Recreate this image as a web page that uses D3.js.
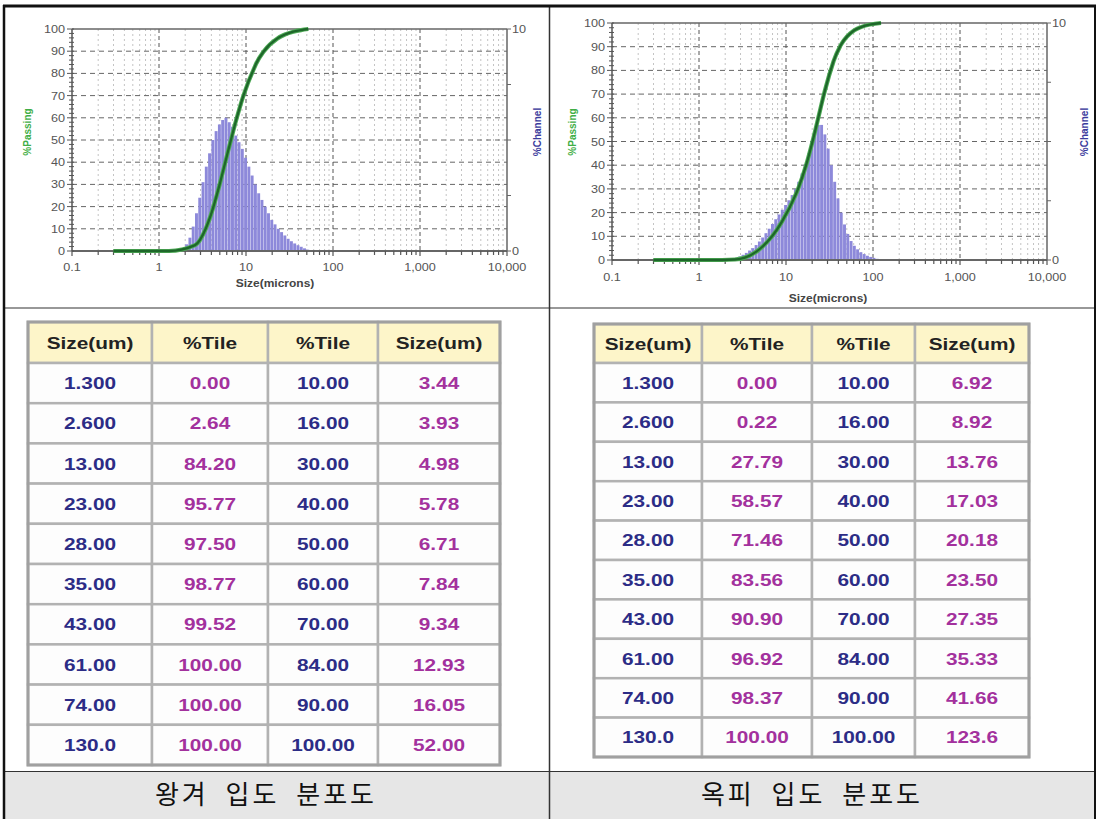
<!DOCTYPE html>
<html>
<head>
<meta charset="utf-8">
<script src="https://cdn.jsdelivr.net/npm/d3@7"></script>
<style>
  body { margin: 0; background: #fff; }
  svg { display: block; }
</style>
</head>
<body>
<script>
// ---- data ----
// histogram channel edges (microns)
const channelEdges = [1.682, 1.834, 2.000, 2.181, 2.378, 2.594, 2.828, 3.084, 3.364, 3.668,
  4.000, 4.362, 4.757, 5.187, 5.657, 6.169, 6.727, 7.336, 8.000, 8.724,
  9.514, 10.375, 11.314, 12.338, 13.454, 14.672, 16.000, 17.448, 19.027, 20.749,
  22.627, 24.675, 26.909, 29.344, 32.000, 34.897, 38.055, 41.499, 45.255, 49.351,
  53.817, 58.688, 64.000, 69.793, 76.109, 82.998, 90.510, 98.701, 107.63, 117.38, 128.00];

// %channel (read on the 0-100 left scale, right scale = /10)
const huskChannel = [0.5, 1, 3, 6, 11, 17, 24, 31, 38, 44,
  50, 54, 57, 59, 60, 58, 56, 52, 49, 46,
  42, 38, 34, 30, 26, 23, 20, 17, 14, 12,
  10, 8.5, 7, 5.5, 4.4, 3.4, 2.6, 1.9, 1.2, 0.6,
  0, 0, 0, 0, 0, 0, 0, 0, 0, 0];
const hullChannel = [0, 0, 0, 0.3, 0.6, 1, 1.5, 2.2, 3, 4,
  5, 6.3, 7.8, 9.5, 11.3, 13.2, 15.2, 17.2, 19.2, 21.2,
  23.2, 25.2, 27.4, 30, 33, 36.5, 40.5, 45, 50, 54,
  57, 57, 53, 47, 40, 33, 26, 20, 15, 11,
  8, 6, 4.5, 3.3, 2.5, 1.8, 1.3, 0.9, 0.5, 0.2];

// tables
const tableHeaders = ['Size(um)', '%Tile', '%Tile', 'Size(um)'];
const sizePoints = ['1.300', '2.600', '13.00', '23.00', '28.00', '35.00', '43.00', '61.00', '74.00', '130.0'];
const tilePoints = ['10.00', '16.00', '30.00', '40.00', '50.00', '60.00', '70.00', '84.00', '90.00', '100.00'];
const huskPassing = ['0.00', '2.64', '84.20', '95.77', '97.50', '98.77', '99.52', '100.00', '100.00', '100.00'];
const huskTileSizes = ['3.44', '3.93', '4.98', '5.78', '6.71', '7.84', '9.34', '12.93', '16.05', '52.00'];
const hullPassing = ['0.00', '0.22', '27.79', '58.57', '71.46', '83.56', '90.90', '96.92', '98.37', '100.00'];
const hullTileSizes = ['6.92', '8.92', '13.76', '17.03', '20.18', '23.50', '27.35', '35.33', '41.66', '123.6'];

const curveStart = 0.3;  // passing line starts here on the baseline
const xTickLabels = ['0.1', '1', '10', '100', '1,000', '10,000'];
const captions = ['왕겨 입도 분포도', '옥피 입도 분포도'];

// ---- page ----
const width = 1097, height = 819;
const font = '"Liberation Sans", Arial, sans-serif';

const svg = d3.select('body').append('svg')
  .attr('width', width)
  .attr('height', height);

// stretched text helper (the source image is a bit wide)
function stext(g, x, y, txt, sx) {
  return g.append('text')
    .attr('transform', `translate(${x},${y}) scale(${sx},1)`)
    .text(txt);
}

function passingPoints(passing, tileSizes) {
  const pts = [[curveStart, 0]];
  const end = +tileSizes[tileSizes.length - 1];
  sizePoints.forEach((s, i) => { if (+s <= end) pts.push([+s, +passing[i]]); });
  tileSizes.forEach((s, i) => pts.push([+s, +tilePoints[i]]));
  return pts.sort((a, b) => a[0] - b[0]);
}

function drawChart(cfg) {
  const g = svg.append('g').style('font-family', font);
  const x = d3.scaleLog().domain([0.1, 10000]).range([cfg.x0, cfg.x1]);
  const y = d3.scaleLinear().domain([0, 100]).range([cfg.yBase, cfg.yTop]);
  const yRight = d3.scaleLinear().domain([0, 10]).range([cfg.yBase, cfg.yTop]);

  const allTicks = x.ticks();
  const isMajor = v => Math.abs(Math.log10(v) - Math.round(Math.log10(v))) < 1e-6;
  const minor = allTicks.filter(v => !isMajor(v));
  const major = allTicks.filter(isMajor);

  // minor vertical grid
  g.selectAll('.vminor').data(minor).enter().append('line')
    .attr('x1', d => x(d)).attr('x2', d => x(d))
    .attr('y1', cfg.yTop).attr('y2', cfg.yBase)
    .attr('stroke', '#c4c4c4').attr('stroke-width', 1)
    .attr('stroke-dasharray', '2,3');

  // horizontal grid
  g.selectAll('.hgrid').data(d3.range(10, 100, 10)).enter().append('line')
    .attr('x1', cfg.x0).attr('x2', cfg.x1)
    .attr('y1', d => y(d)).attr('y2', d => y(d))
    .attr('stroke', '#666').attr('stroke-width', 1)
    .attr('stroke-dasharray', '5,4');

  // decade vertical grid
  g.selectAll('.vmajor').data(major.slice(1, -1)).enter().append('line')
    .attr('x1', d => x(d)).attr('x2', d => x(d))
    .attr('y1', cfg.yTop).attr('y2', cfg.yBase)
    .attr('stroke', '#555').attr('stroke-width', 1)
    .attr('stroke-dasharray', '4,3');

  // histogram
  const bars = cfg.channel.map((v, i) => ({ a: channelEdges[i], b: channelEdges[i + 1], v }))
    .filter(d => d.v > 0);
  g.selectAll('.bar').data(bars).enter().append('rect')
    .attr('x', d => x(d.a))
    .attr('width', d => Math.max(0.5, x(d.b) - x(d.a) - 0.35))
    .attr('y', d => y(d.v))
    .attr('height', d => y(0) - y(d.v))
    .attr('fill', '#8d89da');

  // frame
  g.append('line').attr('x1', cfg.x0).attr('x2', cfg.x1).attr('y1', cfg.yTop).attr('y2', cfg.yTop)
    .attr('stroke', '#666').attr('stroke-width', 1.5);
  g.append('line').attr('x1', cfg.x1).attr('x2', cfg.x1).attr('y1', cfg.yTop).attr('y2', cfg.yBase)
    .attr('stroke', '#666').attr('stroke-width', 1.5);
  g.append('line').attr('x1', cfg.x0).attr('x2', cfg.x1).attr('y1', cfg.yBase).attr('y2', cfg.yBase)
    .attr('stroke', '#666').attr('stroke-width', 2);
  g.append('line').attr('x1', cfg.x0).attr('x2', cfg.x0).attr('y1', cfg.yTop).attr('y2', cfg.yBase)
    .attr('stroke', '#555').attr('stroke-width', 1.5);

  // x ticks
  g.selectAll('.xt').data(allTicks).enter().append('line')
    .attr('x1', d => x(d)).attr('x2', d => x(d))
    .attr('y1', cfg.yBase).attr('y2', d => cfg.yBase + (isMajor(d) ? 5 : 4))
    .attr('stroke', '#555').attr('stroke-width', 1.2);

  // left ticks
  g.selectAll('.ylt').data(d3.range(0, 101, 2)).enter().append('line')
    .attr('x1', d => cfg.x0 - (d % 10 === 0 ? 5 : 3)).attr('x2', cfg.x0 + 2)
    .attr('y1', d => y(d)).attr('y2', d => y(d))
    .attr('stroke', '#555').attr('stroke-width', 1);

  // right ticks
  g.selectAll('.yrt').data(d3.range(0, 10.1, 2.5)).enter().append('line')
    .attr('x1', cfg.x1).attr('x2', cfg.x1 + 4)
    .attr('y1', d => yRight(d)).attr('y2', d => yRight(d))
    .attr('stroke', '#666').attr('stroke-width', 1);

  // passing curve
  const pts = passingPoints(cfg.passing, cfg.tileSizes);
  const line = d3.line().x(d => x(d[0])).y(d => y(d[1])).curve(d3.curveMonotoneX);
  g.append('path').attr('d', line(pts)).attr('fill', 'none')
    .attr('stroke', '#4fab57').attr('stroke-width', 4.2);
  g.append('path').attr('d', line(pts)).attr('fill', 'none')
    .attr('stroke', '#1e672a').attr('stroke-width', 2.3);

  // tick labels
  const lab = g.append('g').attr('fill', '#555').style('font-size', '11px');
  d3.range(0, 101, 10).forEach(v => {
    stext(lab, cfg.x0 - 7, y(v) + 4, String(v), 1.15).attr('text-anchor', 'end');
  });
  major.forEach((v, i) => {
    stext(lab, x(v), cfg.labelY, xTickLabels[i], 1.15).attr('text-anchor', 'middle');
  });
  stext(lab, cfg.x1 + 5, yRight(10) + 4, '10', 1.15);
  stext(lab, cfg.x1 + 5, yRight(0) + 4, '0', 1.15);

  // axis titles
  stext(g, cfg.titleX, cfg.titleY, 'Size(microns)', 1.2)
    .attr('text-anchor', 'middle').attr('fill', '#444')
    .style('font-size', '10px').style('font-weight', 'bold');
  g.append('text')
    .attr('transform', `translate(${cfg.passX},${cfg.labelMid}) rotate(-90)`)
    .attr('text-anchor', 'middle').attr('fill', '#3fae46')
    .style('font-size', '10px').style('font-weight', 'bold')
    .text('%Passing');
  g.append('text')
    .attr('transform', `translate(${cfg.chanX},${cfg.labelMid}) rotate(-90)`)
    .attr('text-anchor', 'middle').attr('fill', '#3b3b9c')
    .style('font-size', '10px').style('font-weight', 'bold')
    .text('%Channel');
}

function drawTable(cfg) {
  const g = svg.append('g').style('font-family', font).style('font-weight', 'bold');
  const colX = [cfg.x0];
  cfg.colW.forEach(w => colX.push(colX[colX.length - 1] + w));
  const rowY = [cfg.y0, cfg.y0 + cfg.headH];
  for (let i = 0; i < cfg.cols[0].length; i++) rowY.push(rowY[rowY.length - 1] + cfg.rowH);

  const cells = [];
  tableHeaders.forEach((h, c) => cells.push({ r: 0, c, t: h, head: true }));
  cfg.cols.forEach((col, c) => col.forEach((t, r) => cells.push({ r: r + 1, c, t, head: false })));

  g.selectAll('rect').data(cells).enter().append('rect')
    .attr('x', d => colX[d.c]).attr('y', d => rowY[d.r])
    .attr('width', d => colX[d.c + 1] - colX[d.c])
    .attr('height', d => rowY[d.r + 1] - rowY[d.r])
    .attr('fill', d => d.head ? '#fdf5c9' : '#fdfdfd')
    .attr('stroke', '#b2b2b2').attr('stroke-width', 2.5);

  g.append('rect')
    .attr('x', colX[0]).attr('y', rowY[0])
    .attr('width', colX[4] - colX[0]).attr('height', rowY[rowY.length - 1] - rowY[0])
    .attr('fill', 'none').attr('stroke', '#a0a0a0').attr('stroke-width', 3);

  const colour = ['#2c2c86', '#a3319d', '#2c2c86', '#a3319d'];
  cells.forEach(d => {
    const cx = (colX[d.c] + colX[d.c + 1]) / 2;
    const cy = (rowY[d.r] + rowY[d.r + 1]) / 2;
    stext(g, cx, cy + 6, d.t, 1.3)
      .attr('text-anchor', 'middle')
      .attr('fill', d.head ? '#222' : colour[d.c])
      .style('font-size', '16px');
  });
}

// outer layout
svg.append('rect').attr('x', 4).attr('y', 772).attr('width', 1090).attr('height', 47).attr('fill', '#e6e6e6');
svg.append('line').attr('x1', 4).attr('x2', 1095).attr('y1', 308).attr('y2', 308).attr('stroke', '#333').attr('stroke-width', 1.2);
svg.append('line').attr('x1', 4).attr('x2', 1095).attr('y1', 771.5).attr('y2', 771.5).attr('stroke', '#333').attr('stroke-width', 1.2);
svg.append('line').attr('x1', 549.5).attr('x2', 549.5).attr('y1', 5).attr('y2', 819).attr('stroke', '#333').attr('stroke-width', 1.5);
svg.append('line').attr('x1', 4).attr('x2', 4).attr('y1', 5).attr('y2', 819).attr('stroke', '#111').attr('stroke-width', 2.5);
svg.append('line').attr('x1', 1095).attr('x2', 1095).attr('y1', 5).attr('y2', 819).attr('stroke', '#111').attr('stroke-width', 2);
svg.append('line').attr('x1', 3).attr('x2', 1096).attr('y1', 6).attr('y2', 6).attr('stroke', '#111').attr('stroke-width', 3);

drawChart({ x0: 72, x1: 507, yTop: 29, yBase: 251, labelY: 271, titleX: 275, titleY: 287,
  passX: 31, chanX: 541, labelMid: 132,
  channel: huskChannel, passing: huskPassing, tileSizes: huskTileSizes });
drawChart({ x0: 612, x1: 1047, yTop: 23, yBase: 260, labelY: 281, titleX: 828, titleY: 302,
  passX: 576, chanX: 1088, labelMid: 132,
  channel: hullChannel, passing: hullPassing, tileSizes: hullTileSizes });

drawTable({ x0: 28, y0: 322, colW: [124, 116, 110, 122], headH: 41, rowH: 40.2,
  cols: [sizePoints, huskPassing, tilePoints, huskTileSizes] });
drawTable({ x0: 594, y0: 324, colW: [108, 110, 103, 114], headH: 39, rowH: 39.4,
  cols: [sizePoints, hullPassing, tilePoints, hullTileSizes] });

// captions
svg.selectAll('.caption').data(captions).enter().append('text')
  .attr('x', (d, i) => i === 0 ? 266 : 812)
  .attr('y', 804)
  .attr('text-anchor', 'middle')
  .attr('fill', '#111')
  .style('font-family', '"Noto Sans CJK KR", sans-serif')
  .style('font-size', '26px')
  .style('letter-spacing', '3px')
  .style('word-spacing', '8px')
  .text(d => d);
</script>
</body>
</html>
